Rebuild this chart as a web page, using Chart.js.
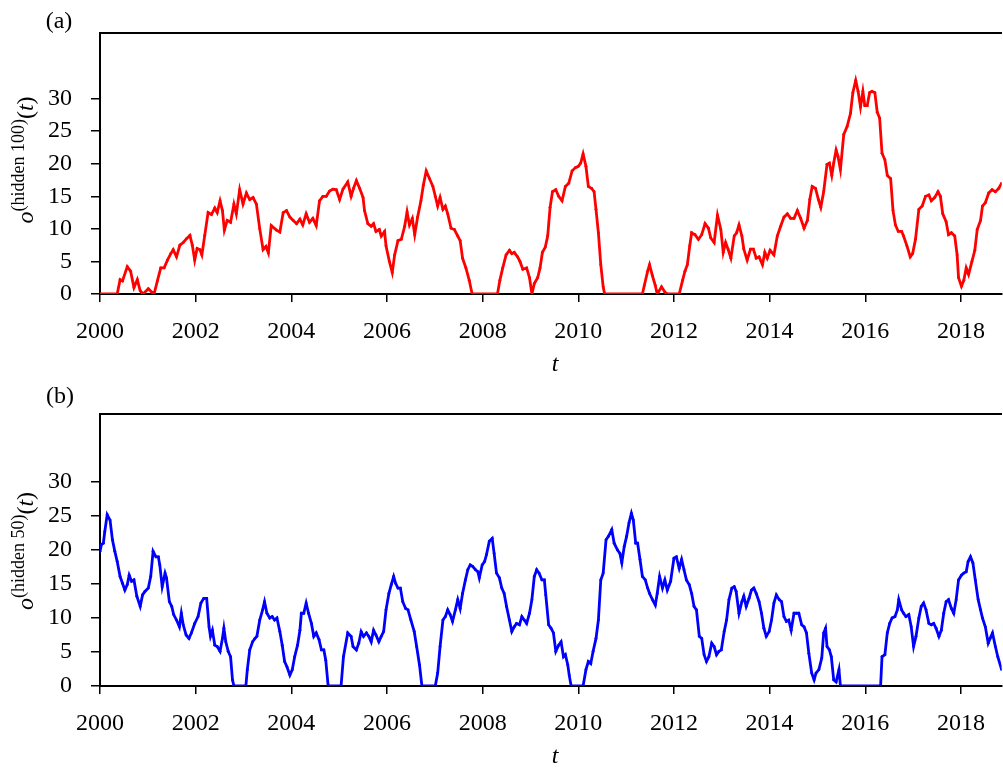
<!DOCTYPE html>
<html>
<head>
<meta charset="utf-8">
<script src="https://cdn.jsdelivr.net/npm/chart.js@4.4.1/dist/chart.umd.min.js"></script>
<style>
  html, body { margin: 0; padding: 0; background: #fff; overflow: hidden; }
  .panel { position: absolute; left: 0; width: 1003px; }
</style>
</head>
<body>
<div class="panel" style="top:0;height:375px"><canvas id="chartA" width="1003" height="375"></canvas></div>
<div class="panel" style="top:375px;height:394px"><canvas id="chartB" width="1003" height="394"></canvas></div>
<script>
// Panel (a): output of the 100-unit hidden layer over time
const tA = [
  2000.00, 2000.36, 2000.42, 2000.47, 2000.57, 2000.64, 2000.71, 2000.78, 2000.84, 2000.90,
  2001.01, 2001.08, 2001.13, 2001.20, 2001.27, 2001.34, 2001.41, 2001.48, 2001.53, 2001.60,
  2001.67, 2001.74, 2001.81, 2001.88, 2001.93, 2001.98, 2002.03, 2002.09, 2002.13, 2002.19,
  2002.26, 2002.33, 2002.40, 2002.45, 2002.51, 2002.56, 2002.60, 2002.66, 2002.73, 2002.80,
  2002.85, 2002.92, 2002.99, 2003.06, 2003.13, 2003.20, 2003.27, 2003.34, 2003.41, 2003.47,
  2003.52, 2003.58, 2003.69, 2003.76, 2003.83, 2003.90, 2003.97, 2004.04, 2004.11, 2004.18,
  2004.24, 2004.31, 2004.38, 2004.45, 2004.52, 2004.59, 2004.66, 2004.73, 2004.80, 2004.87,
  2004.94, 2005.01, 2005.08, 2005.18, 2005.25, 2005.30, 2005.36, 2005.43, 2005.50, 2005.53,
  2005.60, 2005.67, 2005.72, 2005.77, 2005.84, 2005.88, 2005.95, 2005.98, 2006.05, 2006.11,
  2006.16, 2006.23, 2006.30, 2006.37, 2006.42, 2006.47, 2006.53, 2006.58, 2006.64, 2006.71,
  2006.76, 2006.82, 2006.89, 2006.96, 2007.01, 2007.06, 2007.11, 2007.17, 2007.22, 2007.27,
  2007.34, 2007.41, 2007.48, 2007.53, 2007.58, 2007.65, 2007.72, 2007.78, 2008.31, 2008.36,
  2008.42, 2008.49, 2008.56, 2008.61, 2008.66, 2008.73, 2008.78, 2008.84, 2008.92, 2008.98,
  2009.03, 2009.08, 2009.15, 2009.20, 2009.25, 2009.31, 2009.36, 2009.41, 2009.46, 2009.53,
  2009.59, 2009.66, 2009.73, 2009.80, 2009.87, 2009.94, 2010.00, 2010.05, 2010.10, 2010.16,
  2010.21, 2010.28, 2010.33, 2010.37, 2010.42, 2010.47, 2010.52, 2010.55, 2011.34, 2011.38,
  2011.45, 2011.49, 2011.55, 2011.61, 2011.65, 2011.74, 2011.81, 2011.86, 2012.11, 2012.18,
  2012.23, 2012.28, 2012.33, 2012.37, 2012.44, 2012.51, 2012.58, 2012.65, 2012.72, 2012.77,
  2012.84, 2012.91, 2012.98, 2013.03, 2013.08, 2013.13, 2013.19, 2013.26, 2013.31, 2013.36,
  2013.42, 2013.46, 2013.53, 2013.60, 2013.66, 2013.72, 2013.78, 2013.85, 2013.90, 2013.95,
  2014.01, 2014.09, 2014.16, 2014.23, 2014.30, 2014.37, 2014.44, 2014.51, 2014.58, 2014.65,
  2014.72, 2014.79, 2014.84, 2014.89, 2014.96, 2015.02, 2015.07, 2015.13, 2015.20, 2015.25,
  2015.30, 2015.34, 2015.39, 2015.43, 2015.48, 2015.55, 2015.62, 2015.69, 2015.74, 2015.80,
  2015.85, 2015.90, 2015.95, 2015.99, 2016.04, 2016.09, 2016.14, 2016.20, 2016.25, 2016.30,
  2016.35, 2016.41, 2016.46, 2016.53, 2016.58, 2016.63, 2016.69, 2016.76, 2016.80, 2016.87,
  2016.94, 2016.99, 2017.05, 2017.12, 2017.19, 2017.26, 2017.33, 2017.38, 2017.45, 2017.52,
  2017.57, 2017.62, 2017.69, 2017.74, 2017.80, 2017.87, 2017.92, 2017.95, 2018.01, 2018.06,
  2018.11, 2018.16, 2018.23, 2018.29, 2018.34, 2018.41, 2018.45, 2018.51, 2018.58, 2018.65,
  2018.72, 2018.79, 2018.85
];
const oA = [
  0, 0, 2.2, 2.0, 4.2, 3.5, 1.0, 2.2, 0.5, 0,
  0.8, 0.3, 0, 2.0, 4.0, 4.0, 5.2, 6.2, 6.8, 5.7,
  7.5, 7.9, 8.5, 9.0, 7.5, 5.2, 7.0, 6.8, 6.0, 9.0,
  12.5, 12.2, 13.2, 12.5, 14.3, 12.8, 9.8, 11.3, 11.0, 13.8,
  12.3, 16.0, 13.8, 15.5, 14.5, 14.8, 13.8, 10.0, 6.8, 7.3,
  6.3, 10.5, 9.8, 9.5, 12.5, 12.8, 11.8, 11.3, 10.8, 11.5,
  10.6, 12.3, 11.0, 11.6, 10.5, 14.3, 15.0, 15.0, 15.8, 16.1,
  16.0, 14.5, 16.1, 17.2, 15.0, 16.2, 17.4, 16.2, 14.8, 12.8,
  10.8, 10.4, 10.8, 9.6, 9.9, 8.9, 9.6, 7.4, 5.0, 3.3,
  6.0, 8.2, 8.4, 10.4, 12.6, 10.6, 11.6, 9.1, 11.8, 14.3,
  16.7, 18.9, 17.7, 16.5, 15.0, 13.5, 14.8, 13.0, 13.5, 12.3,
  10.1, 9.9, 8.9, 8.2, 5.5, 4.0, 2.1, 0, 0, 2.1,
  4.0, 6.0, 6.7, 6.2, 6.4, 5.7, 5.0, 3.8, 4.0, 2.5,
  0, 1.6, 2.5, 4.0, 6.4, 7.2, 8.9, 13.3, 15.7, 16.0,
  15.0, 14.3, 16.5, 17.0, 18.9, 19.4, 19.6, 20.1, 21.5, 19.6,
  16.5, 16.2, 15.7, 13.0, 9.4, 4.5, 1.1, 0, 0, 1.3,
  3.5, 4.5, 2.8, 1.3, 0, 1.1, 0.3, 0, 0, 2.1,
  3.5, 4.5, 7.4, 9.4, 9.1, 8.4, 9.1, 10.8, 10.1, 8.6,
  7.9, 12.1, 9.9, 6.4, 7.9, 6.9, 5.5, 8.9, 9.4, 10.6,
  8.9, 6.9, 5.2, 6.9, 6.9, 5.5, 5.7, 4.5, 6.4, 5.5,
  6.7, 6.0, 8.9, 10.4, 11.8, 12.3, 11.6, 11.6, 12.8, 11.6,
  10.1, 11.3, 14.5, 16.5, 16.2, 14.5, 13.3, 15.7, 19.9, 20.1,
  18.2, 20.1, 22.1, 21.1, 19.1, 24.5, 25.7, 27.7, 30.9, 32.8,
  31.1, 28.7, 31.1, 28.9, 28.9, 30.9, 31.1, 30.9, 27.9, 27.0,
  21.6, 20.6, 18.2, 17.7, 12.8, 10.6, 9.6, 9.6, 8.9, 7.4,
  5.7, 6.2, 8.4, 13.0, 13.5, 15.0, 15.2, 14.3, 14.8, 15.7,
  15.0, 12.3, 11.1, 9.1, 9.4, 8.9, 6.0, 2.5, 1.2, 2.1,
  4.0, 3.0, 5.0, 6.7, 9.9, 11.3, 13.5, 14.0, 15.5, 16.0,
  15.7, 16.2, 17.0
];

// Panel (b): output of the 50-unit hidden layer over time
const tB = [
  2000.00, 2000.03, 2000.07, 2000.10, 2000.15, 2000.21, 2000.26, 2000.31, 2000.36, 2000.42,
  2000.47, 2000.52, 2000.57, 2000.61, 2000.66, 2000.71, 2000.77, 2000.84, 2000.89, 2000.94,
  2001.01, 2001.06, 2001.11, 2001.17, 2001.22, 2001.25, 2001.30, 2001.36, 2001.39, 2001.45,
  2001.50, 2001.54, 2001.60, 2001.66, 2001.70, 2001.74, 2001.80, 2001.86, 2001.91, 2001.98,
  2002.05, 2002.11, 2002.17, 2002.23, 2002.28, 2002.31, 2002.35, 2002.40, 2002.45, 2002.51,
  2002.56, 2002.59, 2002.63, 2002.68, 2002.73, 2002.77, 2002.80, 2003.05, 2003.08, 2003.13,
  2003.19, 2003.24, 2003.28, 2003.34, 2003.40, 2003.44, 2003.49, 2003.55, 2003.60, 2003.65,
  2003.70, 2003.76, 2003.81, 2003.86, 2003.91, 2003.97, 2004.02, 2004.07, 2004.13, 2004.18,
  2004.21, 2004.26, 2004.31, 2004.36, 2004.42, 2004.47, 2004.52, 2004.58, 2004.63, 2004.68,
  2004.72, 2004.77, 2005.04, 2005.09, 2005.18, 2005.25, 2005.29, 2005.36, 2005.41, 2005.46,
  2005.51, 2005.57, 2005.62, 2005.67, 2005.72, 2005.77, 2005.83, 2005.88, 2005.93, 2005.98,
  2006.04, 2006.09, 2006.14, 2006.18, 2006.23, 2006.28, 2006.33, 2006.39, 2006.44, 2006.50,
  2006.57, 2006.62, 2006.68, 2006.73, 2007.01, 2007.06, 2007.11, 2007.17, 2007.22, 2007.27,
  2007.32, 2007.37, 2007.43, 2007.48, 2007.53, 2007.58, 2007.64, 2007.69, 2007.74, 2007.79,
  2007.85, 2007.90, 2007.93, 2007.99, 2008.04, 2008.08, 2008.14, 2008.20, 2008.24, 2008.29,
  2008.35, 2008.40, 2008.45, 2008.50, 2008.56, 2008.61, 2008.66, 2008.71, 2008.77, 2008.82,
  2008.87, 2008.92, 2008.98, 2009.03, 2009.08, 2009.13, 2009.18, 2009.24, 2009.29, 2009.32,
  2009.38, 2009.43, 2009.48, 2009.53, 2009.59, 2009.64, 2009.69, 2009.73, 2009.78, 2009.81,
  2009.85, 2010.10, 2010.16, 2010.21, 2010.26, 2010.31, 2010.37, 2010.42, 2010.47, 2010.52,
  2010.58, 2010.63, 2010.70, 2010.75, 2010.82, 2010.87, 2010.91, 2010.96, 2011.01, 2011.06,
  2011.11, 2011.15, 2011.20, 2011.24, 2011.29, 2011.34, 2011.40, 2011.45, 2011.49, 2011.55,
  2011.61, 2011.65, 2011.70, 2011.76, 2011.81, 2011.86, 2011.93, 2012.00, 2012.05, 2012.11,
  2012.16, 2012.21, 2012.26, 2012.32, 2012.37, 2012.42, 2012.47, 2012.53, 2012.58, 2012.63,
  2012.68, 2012.73, 2012.79, 2012.84, 2012.89, 2012.94, 2012.99, 2013.05, 2013.10, 2013.15,
  2013.21, 2013.26, 2013.30, 2013.36, 2013.42, 2013.46, 2013.51, 2013.57, 2013.62, 2013.67,
  2013.72, 2013.78, 2013.83, 2013.88, 2013.93, 2013.99, 2014.04, 2014.09, 2014.14, 2014.20,
  2014.25, 2014.30, 2014.35, 2014.40, 2014.45, 2014.51, 2014.56, 2014.61, 2014.67, 2014.72,
  2014.77, 2014.82, 2014.88, 2014.93, 2014.97, 2015.03, 2015.09, 2015.13, 2015.17, 2015.20,
  2015.25, 2015.29, 2015.34, 2015.39, 2015.45, 2015.48, 2016.32, 2016.35, 2016.41, 2016.46,
  2016.51, 2016.56, 2016.62, 2016.67, 2016.70, 2016.76, 2016.80, 2016.85, 2016.91, 2016.96,
  2017.01, 2017.06, 2017.12, 2017.17, 2017.22, 2017.27, 2017.33, 2017.38, 2017.43, 2017.48,
  2017.54, 2017.59, 2017.64, 2017.69, 2017.74, 2017.80, 2017.85, 2017.90, 2017.95, 2018.01,
  2018.06, 2018.11, 2018.15, 2018.20, 2018.25, 2018.30, 2018.36, 2018.41, 2018.45, 2018.51,
  2018.57, 2018.61, 2018.66, 2018.72, 2018.77, 2018.85
];
const oB = [
  19.8, 20.8, 21.0, 22.7, 25.2, 24.4, 21.5, 19.8, 18.3, 16.1,
  15.1, 14.1, 14.9, 16.3, 15.4, 15.6, 13.2, 11.7, 13.4, 13.9,
  14.4, 16.1, 19.8, 19.0, 19.0, 17.8, 14.6, 16.6, 15.9, 12.4,
  11.7, 10.5, 9.7, 8.7, 10.7, 9.0, 7.5, 7.0, 7.8, 9.2,
  10.2, 12.2, 12.9, 12.9, 8.7, 7.3, 8.2, 6.0, 5.8, 5.1,
  7.0, 8.5, 6.5, 5.1, 4.3, 0.9, 0, 0, 2.4, 5.3,
  6.5, 7.0, 7.3, 9.7, 11.2, 12.4, 10.7, 10.0, 10.2, 9.7,
  10.0, 8.0, 6.0, 3.6, 2.8, 1.6, 2.4, 4.3, 6.0, 8.2,
  10.7, 10.7, 12.2, 10.7, 9.2, 7.3, 7.8, 6.8, 5.3, 5.3,
  3.8, 0, 0, 4.3, 7.8, 7.3, 5.8, 5.3, 6.3, 8.0,
  7.3, 7.8, 7.3, 6.5, 8.2, 7.5, 6.5, 7.3, 8.0, 11.2,
  13.6, 14.9, 16.1, 15.1, 14.4, 14.4, 12.4, 11.4, 11.2, 9.7,
  8.0, 5.8, 3.1, 0, 0, 1.9, 5.8, 9.7, 10.2, 11.2,
  10.5, 9.5, 11.2, 12.7, 11.4, 13.6, 15.6, 17.1, 17.8, 17.6,
  17.1, 16.8, 15.9, 17.8, 18.3, 19.3, 21.3, 21.7, 19.5, 16.6,
  15.9, 14.4, 13.6, 11.7, 9.7, 8.0, 8.7, 9.2, 9.0, 10.2,
  9.7, 9.2, 10.7, 12.7, 16.1, 17.1, 16.6, 15.6, 15.6, 13.4,
  9.0, 8.5, 7.8, 5.1, 6.0, 6.5, 4.3, 4.6, 3.1, 1.6,
  0, 0, 2.4, 3.6, 3.3, 5.1, 7.0, 9.7, 15.6, 16.6,
  21.5, 22.0, 23.0, 21.0, 20.0, 19.5, 18.1, 20.5, 22.0, 24.0,
  25.4, 24.4, 21.0, 21.0, 18.6, 16.1, 15.6, 14.4, 13.6, 12.7,
  11.9, 13.6, 16.1, 14.4, 15.6, 14.1, 15.4, 18.8, 19.0, 17.3,
  18.6, 17.1, 15.6, 14.9, 13.6, 11.7, 11.2, 7.3, 7.0, 4.6,
  3.6, 4.3, 6.3, 5.8, 4.6, 5.1, 5.3, 8.0, 9.7, 12.7,
  14.4, 14.6, 13.9, 10.7, 12.4, 13.2, 11.7, 12.9, 14.1, 14.4,
  13.6, 12.4, 10.7, 8.5, 7.3, 8.0, 9.7, 12.2, 13.4, 12.7,
  12.4, 10.2, 9.5, 9.7, 8.2, 10.7, 10.7, 10.7, 9.0, 8.7,
  7.8, 4.8, 1.9, 0.9, 1.9, 2.4, 4.1, 7.8, 8.5, 5.8,
  5.3, 4.3, 0.9, 0.6, 2.4, 0, 0, 4.3, 4.6, 7.8,
  9.2, 10.0, 10.2, 11.2, 12.7, 11.2, 10.7, 10.2, 10.5, 8.7,
  5.8, 7.3, 10.0, 11.7, 12.2, 11.2, 9.2, 9.0, 9.2, 8.5,
  7.3, 8.2, 10.7, 12.4, 12.7, 11.4, 10.7, 12.7, 15.6, 16.3,
  16.6, 16.8, 18.3, 19.0, 18.1, 15.6, 12.7, 11.2, 10.0, 8.7,
  6.3, 7.0, 7.8, 5.8, 4.3, 2.4
];

// Axis ticks
const yearTicks = [2000, 2002, 2004, 2006, 2008, 2010, 2012, 2014, 2016, 2018];
const valueTicks = [0, 5, 10, 15, 20, 25, 30];

const T_MIN = 2000, T_MAX = 2018.85, V_MIN = 0, V_MAX = 40;
const SERIF = "'Liberation Serif', 'Times New Roman', serif";
const INK = '#000';

// Panel tag, italic x title and the rotated y title with its superscript
function panelText(opts) {
  return {
    id: 'panelText',
    afterDraw(chart) {
      const ctx = chart.ctx;
      ctx.save();
      ctx.fillStyle = INK;
      ctx.textAlign = 'center';
      ctx.textBaseline = 'middle';
      ctx.font = `24px ${SERIF}`;
      ctx.fillText(opts.tag, opts.tagX, opts.tagY);
      ctx.font = `italic 24px ${SERIF}`;
      ctx.fillText('t', 555, opts.xTitleY);

      const parts = [
        { s: 'o', f: `italic 24px ${SERIF}`, dy: 0 },
        { s: opts.sup, f: `18px ${SERIF}`, dy: -9 },
        { s: '(', f: `24px ${SERIF}`, dy: 0 },
        { s: 't', f: `italic 24px ${SERIF}`, dy: 0 },
        { s: ')', f: `24px ${SERIF}`, dy: 0 }
      ];
      let total = 0;
      parts.forEach(p => { ctx.font = p.f; p.w = ctx.measureText(p.s).width; total += p.w; });
      ctx.translate(33, opts.yTitleY);
      ctx.rotate(-Math.PI / 2);
      ctx.textAlign = 'left';
      ctx.textBaseline = 'alphabetic';
      let x = -total / 2;
      parts.forEach(p => { ctx.font = p.f; ctx.fillText(p.s, x, p.dy); x += p.w; });
      ctx.restore();
    }
  };
}

function makeChart(id, t, o, color, opts) {
  const ctx = document.getElementById(id);
  const points = t.map((v, i) => ({ x: v, y: o[i] }));
  return new Chart(ctx, {
    type: 'line',
    data: {
      datasets: [{
        data: points,
        borderColor: color,
        backgroundColor: color,
        borderWidth: 2.8,
        pointRadius: 1.4,
        pointHoverRadius: 1.4,
        pointBorderWidth: 0,
        tension: 0,
        fill: false
      }]
    },
    options: {
      responsive: false,
      animation: false,
      devicePixelRatio: 1,
      layout: { padding: { top: opts.chartTop, left: 0, right: 0, bottom: 0 } },
      plugins: { legend: { display: false }, tooltip: { enabled: false } },
      scales: {
        x: {
          type: 'linear',
          position: 'bottom',
          min: T_MIN,
          max: T_MAX,
          afterBuildTicks(scale) { scale.ticks = yearTicks.map(v => ({ value: v })); },
          afterFit(scale) { scale.height = opts.height - opts.chartBottom; },
          ticks: {
            color: INK,
            padding: 15,
            maxRotation: 0,
            font: { family: SERIF, size: 24 },
            callback: v => String(v)
          },
          grid: { drawOnChartArea: false, drawTicks: true, tickLength: 8, color: INK, lineWidth: 1.5 },
          border: { display: true, color: INK, width: 2 }
        },
        xTop: {
          type: 'linear',
          position: 'top',
          min: T_MIN,
          max: T_MAX,
          afterFit(scale) { scale.height = 0; },
          ticks: { display: false },
          grid: { display: false, drawTicks: false },
          border: { display: true, color: INK, width: 2 }
        },
        y: {
          type: 'linear',
          position: 'left',
          min: V_MIN,
          max: V_MAX,
          afterBuildTicks(scale) { scale.ticks = valueTicks.map(v => ({ value: v })); },
          afterFit(scale) { scale.width = 100; },
          ticks: {
            color: INK,
            padding: 19,
            font: { family: SERIF, size: 24 },
            callback: v => String(v)
          },
          grid: { drawOnChartArea: false, drawTicks: true, tickLength: 9, color: INK, lineWidth: 1.5 },
          border: { display: true, color: INK, width: 2 }
        }
      }
    },
    plugins: [panelText(opts)]
  });
}

makeChart('chartA', tA, oA, 'rgb(255, 0, 0)', {
  height: 375, chartTop: 21, chartBottom: 294,
  tag: '(a)', tagX: 59, tagY: 22, xTitleY: 365, yTitleY: 160,
  sup: '(hidden 100)'
});
makeChart('chartB', tB, oB, 'rgb(0, 0, 255)', {
  height: 394, chartTop: 39, chartBottom: 311,
  tag: '(b)', tagX: 60, tagY: 22, xTitleY: 382, yTitleY: 176,
  sup: '(hidden 50)'
});
</script>
</body>
</html>
